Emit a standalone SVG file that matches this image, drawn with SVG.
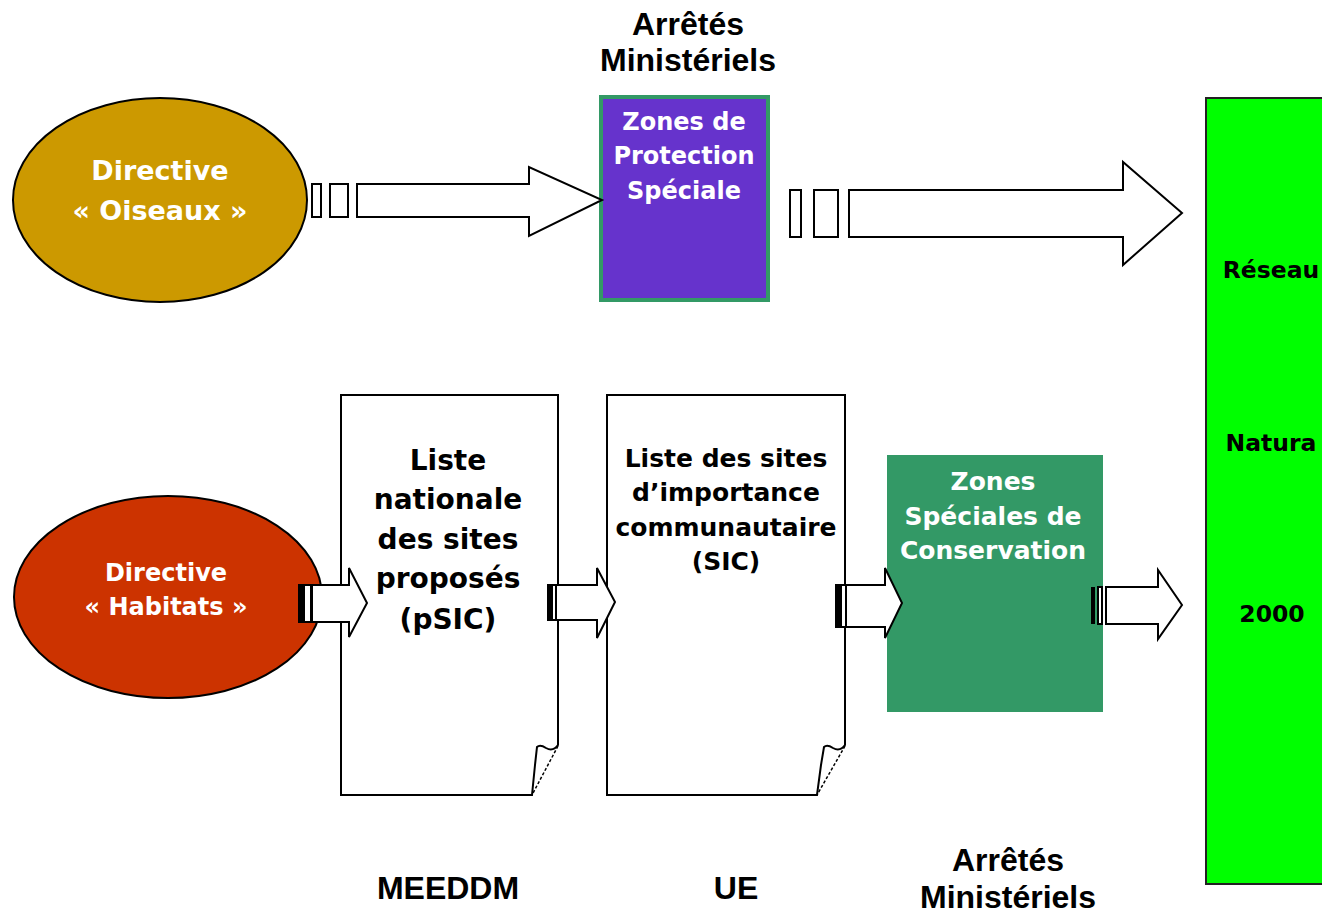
<svg xmlns="http://www.w3.org/2000/svg" width="1322" height="914" viewBox="0 0 1322 914">
<style>
.lbl{font-family:"Liberation Sans",Arial,sans-serif;font-weight:bold;font-size:32px;fill:#000;text-anchor:middle}
.t{font-family:"DejaVu Sans","Noto Sans",sans-serif;font-weight:bold;text-anchor:middle}
.w{fill:#fff}
.k{fill:#000}
.arr{fill:#fff;stroke:#000;stroke-width:2;stroke-linejoin:miter}
.bar{fill:#000}
.doc{fill:#fff;stroke:#000;stroke-width:2}
.fold{fill:none;stroke:#000;stroke-width:1.5;stroke-dasharray:3 2}
</style>
<rect width="1322" height="914" fill="#fff"/>

<g id="label-top">
<text class="lbl" x="688" y="35">Arrêtés</text>
<text class="lbl" x="688" y="71">Ministériels</text>
</g>

<g id="natura2000">
<rect x="1206" y="98" width="130" height="786" fill="#00ff00" stroke="#222" stroke-width="2"/>
<text class="t k" x="1271" y="278" font-size="23.5">Réseau</text>
<text class="t k" x="1271" y="451" font-size="23.5">Natura</text>
<text class="t k" x="1272" y="622" font-size="23.5">2000</text>
</g>

<g id="directive-oiseaux">
<ellipse cx="160" cy="200" rx="147" ry="102" fill="#cc9900" stroke="#000" stroke-width="2"/>
<text class="t w" x="160" y="180" font-size="27">Directive</text>
<text class="t w" x="160" y="220" font-size="27">« Oiseaux »</text>
</g>

<g id="zps">
<rect x="601" y="97" width="167" height="203" fill="#6633cc" stroke="#339966" stroke-width="4"/>
<text class="t w" x="684" y="130" font-size="24">Zones de</text>
<text class="t w" x="684" y="164" font-size="24">Protection</text>
<text class="t w" x="684" y="199" font-size="24">Spéciale</text>
</g>

<g id="directive-habitats">
<ellipse cx="168" cy="597" rx="154" ry="101" fill="#cc3300" stroke="#000" stroke-width="2"/>
<text class="t w" x="166" y="581" font-size="24">Directive</text>
<text class="t w" x="166" y="615" font-size="24">« Habitats  »</text>
</g>

<g id="liste-nationale">
<path class="doc" d="M341,395 H558 V745 Q553,752 546,748 Q540,744 537,747 L535,765 L532,795 H341 Z"/>
<line class="fold" x1="558" y1="746" x2="532" y2="795"/>
<text class="t k" x="448" y="470" font-size="28">Liste</text>
<text class="t k" x="448" y="509" font-size="28">nationale</text>
<text class="t k" x="448" y="549" font-size="28">des sites</text>
<text class="t k" x="448" y="588" font-size="28">proposés</text>
<text class="t k" x="448" y="629" font-size="28">(pSIC)</text>
</g>

<g id="liste-sic">
<path class="doc" d="M607,395 H845 V745 Q840,752 833,748 Q827,744 824,747 L821,765 L817,795 H607 Z"/>
<line class="fold" x1="845" y1="746" x2="817" y2="795"/>
<text class="t k" x="726" y="467" font-size="25">Liste des sites</text>
<text class="t k" x="726" y="501" font-size="25">d’importance</text>
<text class="t k" x="726" y="536" font-size="25">communautaire</text>
<text class="t k" x="726" y="570" font-size="25">(SIC)</text>
</g>

<g id="zsc">
<rect x="887" y="455" width="216" height="257" fill="#339966"/>
<text class="t w" x="993" y="490" font-size="25">Zones</text>
<text class="t w" x="993" y="525" font-size="25">Spéciales de</text>
<text class="t w" x="993" y="559" font-size="25">Conservation</text>
</g>

<g id="connectors">
<!-- Oiseaux -> ZPS -->
<rect class="arr" x="312" y="184" width="9" height="33"/>
<rect class="arr" x="330" y="184" width="18" height="33"/>
<path class="arr" d="M357,184 H529 V167 L602,200 L529,236 V217 H357 Z"/>
<!-- ZPS -> Natura 2000 -->
<rect class="arr" x="790" y="190" width="11" height="47"/>
<rect class="arr" x="814" y="190" width="24" height="47"/>
<path class="arr" d="M849,190 H1123 V162 L1182,213 L1123,265 V237 H849 Z"/>
<!-- Habitats -> liste nationale -->
<path class="arr" d="M312,585 H349 V568 L367,603 L349,637 V622 H312 Z"/>
<rect class="arr" x="299" y="585" width="12" height="37"/>
<rect class="bar" x="299" y="585" width="6" height="37"/>
<!-- liste nationale -> liste SIC -->
<path class="arr" d="M556,585 H597 V568 L615,602 L597,638 V620 H556 Z"/>
<rect class="arr" x="548" y="585" width="8" height="35"/>
<rect class="bar" x="548" y="585" width="5" height="35"/>
<!-- liste SIC -> ZSC -->
<path class="arr" d="M846,585 H885 V568 L902,603 L885,638 V627 H846 Z"/>
<rect class="arr" x="836" y="585" width="10" height="42"/>
<rect class="bar" x="836" y="585" width="6" height="42"/>
<!-- ZSC -> Natura 2000 -->
<rect class="bar" x="1091" y="587" width="4" height="37"/>
<rect class="arr" x="1098" y="587" width="4" height="37"/>
<path class="arr" d="M1106,587 H1158 V570 L1182,605 L1158,639 V624 H1106 Z"/>
</g>

<g id="labels-bottom">
<text class="lbl" x="448" y="899">MEEDDM</text>
<text class="lbl" x="736" y="899">UE</text>
<text class="lbl" x="1008" y="871">Arrêtés</text>
<text class="lbl" x="1008" y="908">Ministériels</text>
</g>
</svg>
